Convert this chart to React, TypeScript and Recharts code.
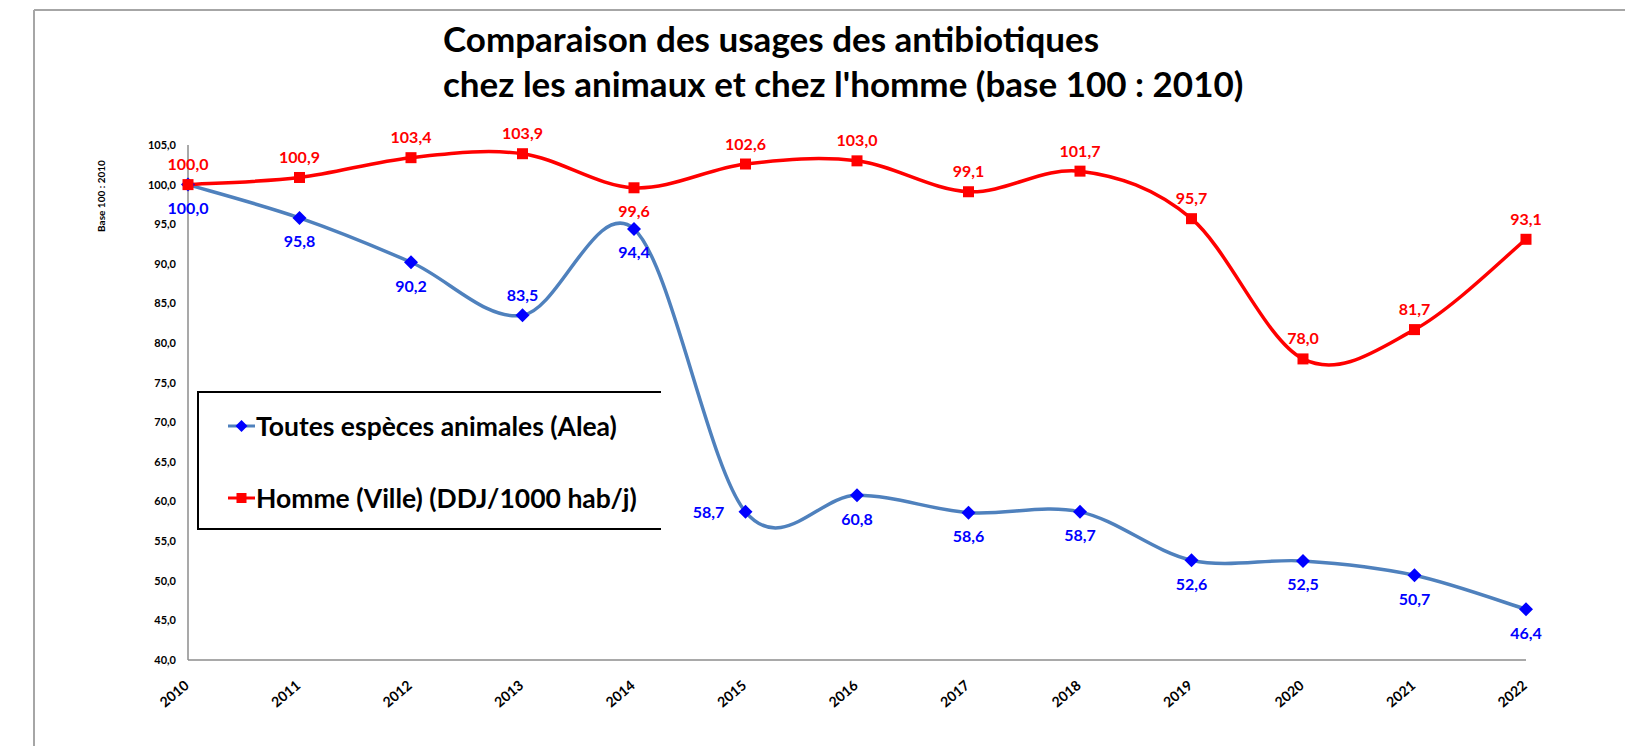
import { CartesianGrid, LabelList, Legend, Line, LineChart, XAxis, YAxis } from "recharts";

const years = ["2010", "2011", "2012", "2013", "2014", "2015", "2016", "2017", "2018", "2019", "2020", "2021", "2022"];
const animaux = [100.0, 95.8, 90.2, 83.5, 94.4, 58.7, 60.8, 58.6, 58.7, 52.6, 52.5, 50.7, 46.4];
const homme = [100.0, 100.9, 103.4, 103.9, 99.6, 102.6, 103.0, 99.1, 101.7, 95.7, 78.0, 81.7, 93.1];
const yTicks = [40, 45, 50, 55, 60, 65, 70, 75, 80, 85, 90, 95, 100, 105];

const animauxName = "Toutes espèces animales (Alea)";
const hommeName = "Homme (Ville) (DDJ/1000 hab/j)";
const yLabel = "Base 100 : 2010";

const data = years.map((year, i) => ({ year, animaux: animaux[i], homme: homme[i] }));

const FONT = "Lato, 'Open Sans', sans-serif";
const BLUE_LINE = "#4f81bd";
const BLUE = "#0000ff";
const RED = "#ff0000";

const fmt = (v: number) => v.toFixed(1).replace(".", ",");

// Excel-like smoothed line (Catmull-Rom bezier)
const excelSmooth = (context: any) => {
  let pts: [number, number][] = [];
  return {
    areaStart() {},
    areaEnd() {},
    lineStart() {
      pts = [];
    },
    lineEnd() {
      if (!pts.length) return;
      context.moveTo(pts[0][0], pts[0][1]);
      for (let i = 0; i < pts.length - 1; i++) {
        const p0 = pts[i - 1] || pts[i];
        const p1 = pts[i];
        const p2 = pts[i + 1];
        const p3 = pts[i + 2] || p2;
        context.bezierCurveTo(
          p1[0] + (p2[0] - p0[0]) / 6,
          p1[1] + (p2[1] - p0[1]) / 6,
          p2[0] - (p3[0] - p1[0]) / 6,
          p2[1] - (p3[1] - p1[1]) / 6,
          p2[0],
          p2[1]
        );
      }
    },
    point(x: number, y: number) {
      pts.push([+x, +y]);
    },
  };
};

const Diamond = (props: any) => {
  const { cx, cy, index } = props;
  const s = 7;
  return <path key={`dia-${index}`} d={`M${cx},${cy - s}L${cx + s},${cy}L${cx},${cy + s}L${cx - s},${cy}Z`} fill={BLUE} />;
};

const Square = (props: any) => {
  const { cx, cy, index } = props;
  const s = 5.5;
  return <rect key={`sq-${index}`} x={cx - s} y={cy - s} width={s * 2} height={s * 2} fill={RED} />;
};

const labelAt = (color: string, place: (i: number) => "above" | "below" | "left") => (props: any) => {
  const { x, y, value, index } = props;
  const p = place(index);
  let lx = x;
  let ly = y;
  if (p === "above") ly = y - 21;
  if (p === "below") ly = y + 23;
  if (p === "left") lx = x - 37;
  return (
    <text key={`lb-${index}`} x={lx} y={ly} textAnchor="middle" dominantBaseline="central" fill={color} fontFamily={FONT} fontWeight="bold" fontSize={16}>
      {fmt(Number(value))}
    </text>
  );
};

const animauxLabel = labelAt(BLUE, (i) => (i === 3 ? "above" : i === 5 ? "left" : "below"));
const hommeLabel = labelAt(RED, (i) => (i === 4 ? "below" : "above"));

const YearTick = (props: any) => {
  const { x, y, payload } = props;
  const ax = x + 2;
  const ay = y + 19;
  return (
    <text x={ax} y={ay} transform={`rotate(-40, ${ax}, ${ay})`} textAnchor="end" fontFamily={FONT} fontWeight="bold" fontSize={14} fill="#000">
      {payload.value}
    </text>
  );
};

const AxisTitle = () => {
  const x = 101;
  const y = 196;
  return (
    <text x={x} y={y} transform={`rotate(-90, ${x}, ${y})`} textAnchor="middle" dominantBaseline="central" fontFamily={FONT} fontWeight="bold" fontSize={10} fill="#000">
      {yLabel}
    </text>
  );
};

const LegendBox = () => (
  <div
    style={{
      position: "relative",
      width: 464,
      height: 139,
      borderTop: "2px solid #000",
      borderLeft: "2px solid #000",
      borderBottom: "2px solid #000",
      boxSizing: "border-box",
      background: "#fff",
      fontFamily: FONT,
      fontWeight: "bold",
      fontSize: 26.5,
      color: "#000",
    }}
  >
    {[
      { name: animauxName, line: BLUE_LINE, mark: "diamond" },
      { name: hommeName, line: RED, mark: "square" },
    ].map((item, i) => (
      <div key={item.name} style={{ position: "absolute", left: 29, top: i === 0 ? 18 : 90, height: 30, display: "flex", alignItems: "center", whiteSpace: "nowrap" }}>
        <svg width={28} height={16}>
          <line x1={0} y1={8} x2={27} y2={8} stroke={item.line} strokeWidth={3} />
          {item.mark === "diamond" ? <path d="M13.5,2L19.5,8L13.5,14L7.5,8Z" fill={BLUE} /> : <rect x={8.5} y={3} width={10} height={10} fill={RED} />}
        </svg>
        <span>{item.name}</span>
      </div>
    ))}
  </div>
);

export default function App() {
  return (
    <div style={{ position: "relative", width: 1625, height: 746, background: "#fff", overflow: "hidden" }}>
      <style>{`html,body{margin:0;overflow:hidden}`}</style>
      <svg width={1625} height={746} style={{ position: "absolute", left: 0, top: 0 }}>
        <line x1={34} y1={10} x2={1625} y2={10} stroke="#a6a6a6" strokeWidth={2} />
        <line x1={34} y1={10} x2={34} y2={746} stroke="#a6a6a6" strokeWidth={2} />
      </svg>
      <div
        style={{
          position: "absolute",
          left: 443,
          top: 16,
          fontFamily: FONT,
          fontWeight: "bold",
          fontSize: 35,
          lineHeight: "45px",
          color: "#000",
          whiteSpace: "nowrap",
        }}
      >
        <div>Comparaison des usages des antibiotiques</div>
        <div>chez les animaux et chez l'homme (base 100 : 2010)</div>
      </div>
      <div style={{ position: "absolute", left: 0, top: 0 }}>
        <LineChart width={1625} height={746} data={data} margin={{ top: 145, right: 99, bottom: 0, left: 128 }}>
          <CartesianGrid vertical={false} horizontal={false} />
          <XAxis dataKey="year" tickLine={false} axisLine={{ stroke: "#8c8c8c", strokeWidth: 1.5 }} tick={<YearTick />} interval={0} height={86} />
          <YAxis
            domain={[40, 105]}
            ticks={yTicks}
            interval={0}
            width={60}
            tickLine={false}
            axisLine={{ stroke: "#8c8c8c", strokeWidth: 1.5 }}
            tickFormatter={fmt}
            tick={{ fontFamily: FONT, fontSize: 11, fill: "#000", fontWeight: "bold" }}
            tickMargin={6}
            label={<AxisTitle />}
          />
          <Legend layout="vertical" align="center" verticalAlign="middle" wrapperStyle={{ left: 197, top: 391, width: 464, height: 139 }} content={<LegendBox />} />
          <Line
            name={animauxName}
            dataKey="animaux"
            type={excelSmooth as any}
            stroke={BLUE_LINE}
            strokeWidth={3.5}
            dot={Diamond}
            activeDot={false}
            isAnimationActive={false}
          >
            <LabelList dataKey="animaux" content={animauxLabel} />
          </Line>
          <Line
            name={hommeName}
            dataKey="homme"
            type={excelSmooth as any}
            stroke={RED}
            strokeWidth={3.5}
            dot={Square}
            activeDot={false}
            isAnimationActive={false}
          >
            <LabelList dataKey="homme" content={hommeLabel} />
          </Line>
        </LineChart>
      </div>
    </div>
  );
}
